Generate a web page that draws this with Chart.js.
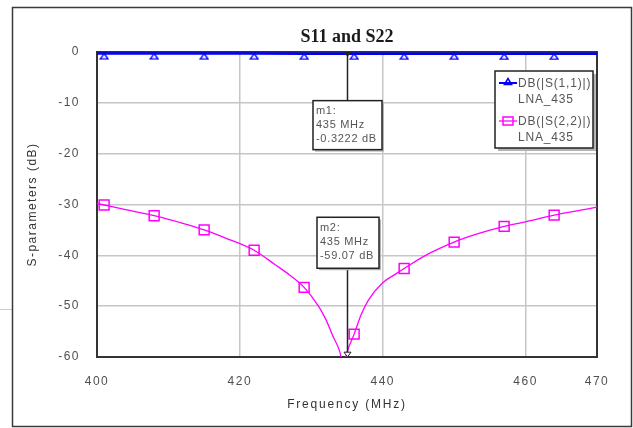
<!DOCTYPE html>
<html>
<head>
<meta charset="utf-8">
<script src="https://cdn.jsdelivr.net/npm/chart.js@4/dist/chart.umd.min.js"></script>
<style>
  html, body { margin: 0; padding: 0; background: #fff; }
  canvas { display: block; }
</style>
</head>
<body>
<canvas id="c" width="633" height="428"></canvas>
<script>
'use strict';

/* datos */
const xTicks = [400, 420, 440, 460, 470];
const yTicks = [0, -10, -20, -30, -40, -50, -60];
const symbolFreq = [401, 408, 415, 422, 429, 436, 443, 450, 457, 464];   // símbolos de la curva

const s11Freq = [400, 401, 408, 415, 422, 429, 435, 436, 443, 450, 457, 464, 470];
const s11Db   = [-0.30, -0.30, -0.30, -0.31, -0.31, -0.32, -0.3222, -0.32, -0.33, -0.33, -0.34, -0.34, -0.35];

const s22Freq = [400, 401, 404, 408, 412, 415, 418, 422, 425, 427, 429, 431, 432, 433, 434, 434.5,
                 435, 436, 437, 438, 440, 442, 443, 446, 450, 453, 457, 460, 464, 467, 470];
const s22Db   = [-29.8, -30.1, -31.0, -32.2, -33.7, -35.0, -36.6, -39.0, -41.9, -43.9, -46.3, -50.0, -52.5, -55.8, -59.0, -62.0,
                 -59.07, -55.5, -51.6, -48.8, -45.4, -43.5, -42.6, -40.0, -37.4, -35.9, -34.3, -33.4, -32.1, -31.3, -30.5];

const seriesNames = ['DB(|S(1,1)|)', 'DB(|S(2,2)|)'];
const simName = 'LNA_435';
const markerNames = ['m1', 'm2'];
const markerFreq = [435, 435];
const markerDb = [-0.3222, -59.07];

/* estilo / posiciones de cajas (relativas al punto del marcador) */
const BLUE = '#0000ff', MAG = '#ff00ff', INK = '#222', TXT = '#555';
const SANS = '"Liberation Sans", Arial, sans-serif';
const markerBox = [{ dx: -34, dy: 47, w: 69, h: 49 }, { dx: -30, dy: -135, w: 62, h: 51 }];

const pts = (xs, ys) => xs.map((x, i) => ({ x, y: ys[i] }));
const symR = r => ctx => symbolFreq.includes(ctx.raw && ctx.raw.x) ? r : 0;

/* triángulo de S11: vértice sobre la curva, base debajo (estilo ADS) */
const triSym = (() => {
  const cv = document.createElement('canvas');
  cv.width = 10; cv.height = 14;
  const g = cv.getContext('2d');
  g.strokeStyle = BLUE; g.lineWidth = 1.3;
  g.beginPath(); g.moveTo(5, 7); g.lineTo(8.8, 12.3); g.lineTo(1.2, 12.3); g.closePath(); g.stroke();
  return cv;
})();

function box(ctx, l, t, w, h, sh) {
  ctx.fillStyle = '#b4b4b4';
  ctx.fillRect(l + sh, t + sh, w, h);
  ctx.fillStyle = '#fff';
  ctx.fillRect(l, t, w, h);
  ctx.strokeStyle = INK; ctx.lineWidth = 1.5;
  ctx.strokeRect(l, t, w, h);
}
function tri(ctx, x, y, s, down) {
  ctx.beginPath();
  if (down) { ctx.moveTo(x - s, y - s * 0.6); ctx.lineTo(x + s, y - s * 0.6); ctx.lineTo(x, y + s * 0.8); }
  else { ctx.moveTo(x, y - s); ctx.lineTo(x + s * 0.9, y + s * 0.5); ctx.lineTo(x - s * 0.9, y + s * 0.5); }
  ctx.closePath();
}

const deco = {
  id: 'deco',
  beforeDraw(c) {
    const ctx = c.ctx;
    ctx.save();
    ctx.fillStyle = '#fff'; ctx.fillRect(0, 0, c.width, c.height);
    ctx.strokeStyle = '#cfcfcf'; ctx.lineWidth = 1;
    ctx.beginPath(); ctx.moveTo(0, 309.5); ctx.lineTo(12, 309.5); ctx.stroke();
    ctx.strokeStyle = '#3a3a3a'; ctx.lineWidth = 1.5;
    ctx.strokeRect(12.5, 7.5, 619, 419);
    ctx.restore();
    ctx.letterSpacing = '1.5px';   // etiquetas de ejes espaciadas
  },
  beforeDatasetsDraw(c) {
    const ctx = c.ctx, a = c.chartArea;
    ctx.letterSpacing = '0px';
    ctx.save();
    ctx.strokeStyle = '#333'; ctx.lineWidth = 2;
    ctx.strokeRect(a.left, a.top, a.right - a.left, a.bottom - a.top);
    ctx.restore();
  },
  afterDatasetsDraw(c) {
    const ctx = c.ctx, a = c.chartArea, xs = c.scales.x, ys = c.scales.y;
    ctx.save();

    /* marcadores m1 / m2 */
    markerNames.forEach((name, i) => {
      const px = Math.round(xs.getPixelForValue(markerFreq[i])), py = ys.getPixelForValue(markerDb[i]);
      const b = markerBox[i], l = px + b.dx, t = py + b.dy;
      ctx.strokeStyle = INK; ctx.lineWidth = 1.5;
      ctx.beginPath();
      if (b.dy > 0) { ctx.moveTo(px + 0.5, py); ctx.lineTo(px + 0.5, t); }
      else { ctx.moveTo(px + 0.5, t + b.h); ctx.lineTo(px + 0.5, py + 2); }
      ctx.stroke();
      tri(ctx, px + 0.5, py + (i ? 2 : 0.5), 3.5, true);
      if (i === 0) { ctx.fillStyle = INK; ctx.fill(); } else { ctx.lineWidth = 1; ctx.fillStyle = '#fff'; ctx.fill(); ctx.stroke(); }
      box(ctx, l, t, b.w, b.h, 2);
      ctx.fillStyle = TXT; ctx.font = '11px ' + SANS; ctx.letterSpacing = '0.7px';
      ctx.textAlign = 'left'; ctx.textBaseline = 'middle';
      [name + ':', markerFreq[i] + ' MHz', markerDb[i] + ' dB'].forEach((s, k) => ctx.fillText(s, l + 3, t + 10.5 + k * 14));
      ctx.letterSpacing = '0px';
    });

    /* leyenda */
    const ll = a.right - 102, lt = a.top + 19;
    box(ctx, ll, lt, 98, 77, 3);
    const cols = [BLUE, MAG];
    seriesNames.forEach((s, i) => {
      const yy = lt + 12 + i * 38, sx = ll + 4;
      ctx.strokeStyle = cols[i]; ctx.lineWidth = i ? 1.3 : 2;
      ctx.beginPath(); ctx.moveTo(sx, yy); ctx.lineTo(sx + 18, yy); ctx.stroke();
      ctx.lineWidth = 1.5;
      if (i === 0) { tri(ctx, sx + 9, yy - 0.5, 4, false); ctx.stroke(); }
      else { ctx.strokeRect(sx + 4, yy - 4, 10, 8); }
      ctx.fillStyle = TXT; ctx.font = '12px ' + SANS; ctx.letterSpacing = '0.8px';
      ctx.textAlign = 'left'; ctx.textBaseline = 'middle';
      ctx.fillText(s, sx + 19, yy + 0.5);
      ctx.fillText(simName, sx + 19, yy + 16.5);
      ctx.letterSpacing = '0px';
    });

    /* títulos */
    const cx = (a.left + a.right) / 2;
    ctx.fillStyle = '#1a1a1a'; ctx.textAlign = 'center'; ctx.textBaseline = 'middle';
    ctx.font = 'bold 18px "Liberation Serif", "Times New Roman", serif';
    ctx.fillText('S11 and S22', cx, 37);
    ctx.fillStyle = '#333'; ctx.font = '12px ' + SANS; ctx.letterSpacing = '1.8px';
    ctx.fillText('Frequency (MHz)', cx, 405);
    ctx.translate(33, (a.top + a.bottom) / 2);
    ctx.rotate(-Math.PI / 2);
    ctx.letterSpacing = '1.5px';
    ctx.fillText('S-parameters (dB)', 0, 0);
    ctx.restore();
    ctx.letterSpacing = '0px';
  },
};

const tickFont = { family: SANS, size: 12 };
const grid = { color: '#c6c6c6', lineWidth: 1.5, drawTicks: false };

new Chart(document.getElementById('c'), {
  type: 'line',
  data: {
    datasets: [
      { label: seriesNames[0], data: pts(s11Freq, s11Db), borderColor: BLUE, borderWidth: 2.5,
        pointStyle: triSym, pointRadius: symR(5), clip: 8, order: 1 },
      { label: seriesNames[1], data: pts(s22Freq, s22Db), borderColor: MAG, borderWidth: 1.3,
        cubicInterpolationMode: 'monotone', pointStyle: 'rect', pointRadius: symR(7), pointBorderColor: MAG,
        pointBorderWidth: 1.5, pointBackgroundColor: 'rgba(0,0,0,0)', order: 2 },
    ],
  },
  options: {
    responsive: false, animation: false, events: [],
    layout: { padding: { top: 52, right: 36, left: 0, bottom: 0 } },
    plugins: { legend: { display: false }, tooltip: { enabled: false }, title: { display: false } },
    scales: {
      x: {
        type: 'linear', min: 400, max: 470,
        afterBuildTicks: s => { s.ticks = xTicks.map(v => ({ value: v })); },
        afterFit: s => { s.height = 71; },
        grid, border: { display: false },
        ticks: { font: tickFont, color: '#4f4f4f', padding: 17, maxRotation: 0, autoSkip: false },
      },
      y: {
        type: 'linear', min: -60, max: 0,
        afterBuildTicks: s => { s.ticks = yTicks.map(v => ({ value: v })); },
        afterFit: s => { s.width = 97; },
        grid, border: { display: false },
        ticks: { font: tickFont, color: '#4f4f4f', padding: 17 },
      },
    },
  },
  plugins: [deco],
});
</script>
</body>
</html>
